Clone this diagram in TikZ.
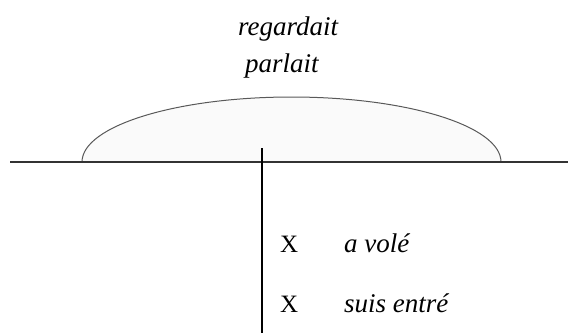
\documentclass[tikz,border=0pt]{standalone}
\usepackage{fontspec}
\setmainfont{Liberation Serif}
\begin{document}
\begin{tikzpicture}[x=1pt,y=-1pt,
  lbl/.style={anchor=base west,inner sep=0pt,font=\fontsize{25}{29}\selectfont},
  ilbl/.style={lbl,font=\fontsize{27}{31}\selectfont\itshape}]
\useasboundingbox (0,0) rectangle (568,333);
% period (arc)
\filldraw[fill=black!2,draw=black!65,line width=1pt] (82,162) arc[start angle=180,end angle=0,x radius=209.5,y radius=-65];
% time line
\coordinate (hl) at (10,162);
\coordinate (hr) at (568,162);
\draw[line width=2pt,black!80] (hl) -- (hr);
% moment of speech
\coordinate (vt) at (262,148);
\coordinate (vb) at (262,333);
\draw[line width=1.4pt] (vt) -- (vb);
% labels
\node[ilbl] (t1) at (238,35) {regardait};
\node[ilbl] (t2) at (245,72) {parlait};
\node[lbl] (x1) at (280,252) {X};
\node[ilbl] (e1) at (344,252) {a volé};
\node[lbl] (x2) at (280,312) {X};
\node[ilbl] (e2) at (344,312) {suis entré};
\end{tikzpicture}
\end{document}
